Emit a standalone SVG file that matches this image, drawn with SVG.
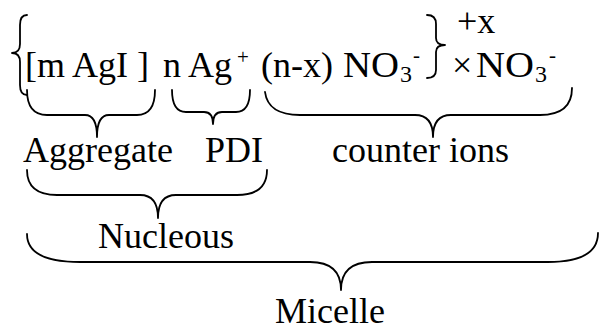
<svg xmlns="http://www.w3.org/2000/svg" width="600" height="335" viewBox="0 0 600 335">
<style>
text{font-family:"Liberation Serif","Times New Roman",serif;font-size:36px;fill:#000}
.sup{font-size:21px}
.sub{font-size:24px}
.br{fill:none;stroke:#000;stroke-width:1.8;stroke-linecap:round;stroke-linejoin:round}
</style>
<rect width="600" height="335" fill="#fff"/>
<g id="formula">
<text x="25" y="77">[m AgI ]</text>
<text x="163" y="77">n Ag</text>
<text class="sup" x="237" y="64">+</text>
<text x="261" y="77">(n-x)</text>
<text x="343" y="77" textLength="56" lengthAdjust="spacingAndGlyphs">NO</text>
<text class="sub" x="400" y="82">3</text>
<text class="sup" x="413" y="62">-</text>
<text x="457" y="33">+x</text>
<text x="452" y="77">×</text>
<text x="476" y="77" textLength="58" lengthAdjust="spacingAndGlyphs">NO</text>
<text class="sub" x="535" y="82">3</text>
<text class="sup" x="549" y="62">-</text>
</g>
<g id="brackets">
<path class="br" d="M27 15 Q20 15 20 25 L20 44 Q20 53 12 53 Q20 53 20 62 L20 85 Q20 95 27 95"/>
<path class="br" d="M427 15 Q436 15 436 24 L436 38 Q436 45 445 45 Q436 45 436 52 L436 70 Q436 78 427 78"/>
</g>
<g id="connectors">
<path class="br" d="M27 90 Q27 115 47 115 L85 115 Q97 115 97 137 Q97 115 109 115 L137 115 Q155 115 155 90"/>
<path class="br" d="M172 90 Q172 112 186 112 L204 112 Q213 112 213 124 Q213 112 222 112 L236 112 Q250 112 250 90"/>
<path class="br" d="M265 92 Q268 115 300 115 L415 115 Q433 115 433 137 Q433 115 451 115 L540 115 Q572 115 572 88"/>
<path class="br" d="M27 170 Q27 195 57 195 L140 195 Q158 195 158 218 Q158 195 176 195 L237 195 Q267 195 267 170"/>
<path class="br" d="M27 234 Q27 262 80 262 L310 262 Q341 262 341 290 Q341 262 372 262 L548 262 Q598 262 598 233"/>
</g>
<g id="aggregate"><text x="23" y="162">Aggregate</text></g>
<g id="pdi"><text x="205" y="162">PDI</text></g>
<g id="counter-ions"><text x="332" y="162">counter ions</text></g>
<g id="nucleous"><text x="98" y="248">Nucleous</text></g>
<g id="micelle"><text x="275" y="323">Micelle</text></g>
</svg>
